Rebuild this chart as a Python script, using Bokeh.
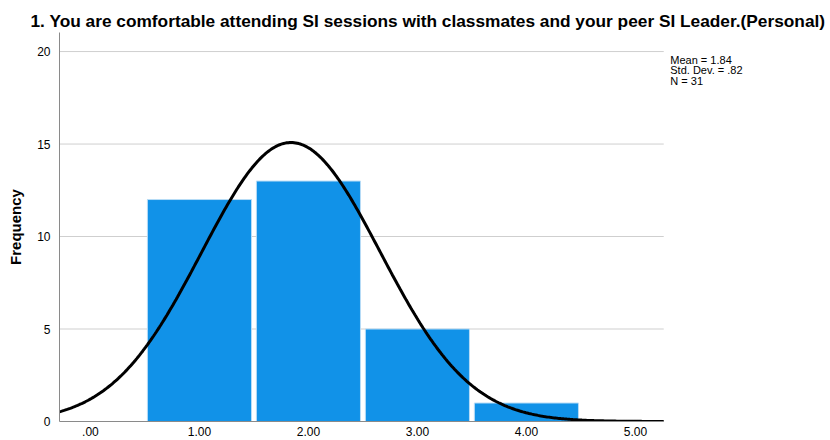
import numpy as np
from bokeh.plotting import figure
from bokeh.models import FixedTicker, Title, Range1d
from bokeh.core.properties import value
from bokeh.embed import file_html
from bokeh.resources import INLINE

title_text = "1. You are comfortable attending SI sessions with classmates and your peer SI Leader.(Personal)"
bin_centers = [1.0, 2.0, 3.0, 4.0]
counts = [12, 13, 5, 1]
x_ticks = [0, 1, 2, 3, 4, 5]
x_tick_labels = [".00", "1.00", "2.00", "3.00", "4.00", "5.00"]
grid_ticks = [5, 10, 15, 20]
y_ticks = [0, 5, 10, 15, 20]
stat_mean = 1.84
stat_sd = 0.82
stat_n = 31
stat_lines = ["Mean = 1.84", "Std. Dev. = .82", "N = 31"]

FONT = "Liberation Sans"
X0, X1 = -0.284, 5.26      # extent of the chart area (axis / grid)
XEND = 6.79                # frame extends right to hold the stats text
YEND = 21.03

p = figure(width=830, height=440, output_backend="svg", toolbar_location=None,
           x_range=Range1d(X0, XEND), y_range=Range1d(0, YEND),
           min_border_left=59, min_border_right=0, min_border_top=32, min_border_bottom=19)
p.title = None
t = Title(text=title_text, align="left", offset=-29, text_font=FONT, text_font_size="17.3px",
          text_font_style="bold", text_color="#000000", standoff=4)
p.add_layout(t, "above")

p.outline_line_color = None
p.background_fill_color = "white"
p.xgrid.grid_line_color = None
p.ygrid.grid_line_color = None

# horizontal grid lines limited to the chart area
p.segment(x0=[X0] * len(grid_ticks), x1=[X1] * len(grid_ticks), y0=grid_ticks, y1=grid_ticks,
          line_color="#cfcfcf", line_width=1)

p.vbar(x=bin_centers, top=counts, width=0.955, bottom=0,
       fill_color="#1192E8", line_color="#b8dcf6", line_width=1)

xs = np.linspace(X0, X1, 400)
binw = 1.0
ys = stat_n * binw / (stat_sd * np.sqrt(2 * np.pi)) * np.exp(-0.5 * ((xs - stat_mean) / stat_sd) ** 2)
p.line(xs, ys, line_color="black", line_width=3)

for ax in (p.xaxis[0], p.yaxis[0]):
    ax.axis_line_color = "#8a8a8a"
    ax.axis_line_width = 1
    ax.major_tick_line_color = None
    ax.minor_tick_line_color = None
    ax.major_tick_out = 0
    ax.major_tick_in = 0
    ax.axis_label_standoff = 0
    ax.major_label_text_font = FONT
    ax.major_label_text_font_size = "12px"
    ax.major_label_text_color = "#000000"

p.xaxis.ticker = FixedTicker(ticks=x_ticks)
p.xaxis.major_label_overrides = {k: v for k, v in zip(x_ticks, x_tick_labels)}
p.xaxis.major_label_standoff = 5
p.xaxis.bounds = (X0, X1)
p.yaxis.ticker = FixedTicker(ticks=y_ticks)
p.yaxis.major_label_standoff = 9
p.yaxis.bounds = (0, YEND)
p.yaxis.axis_label = "Frequency"
p.yaxis.axis_label_text_font = FONT
p.yaxis.axis_label_text_font_size = "15px"
p.yaxis.axis_label_text_font_style = "bold"
p.yaxis.axis_label_text_color = "#000000"
p.yaxis.axis_label_standoff = 10

stat_y = [19.54, 19.0, 18.43]
p.text(x=[5.32] * 3, y=stat_y, text=stat_lines, text_font=value(FONT), text_font_size="11px",
       text_color="#000000", text_baseline="middle", text_align="left")

open("out.html", "w").write(file_html(p, INLINE))
